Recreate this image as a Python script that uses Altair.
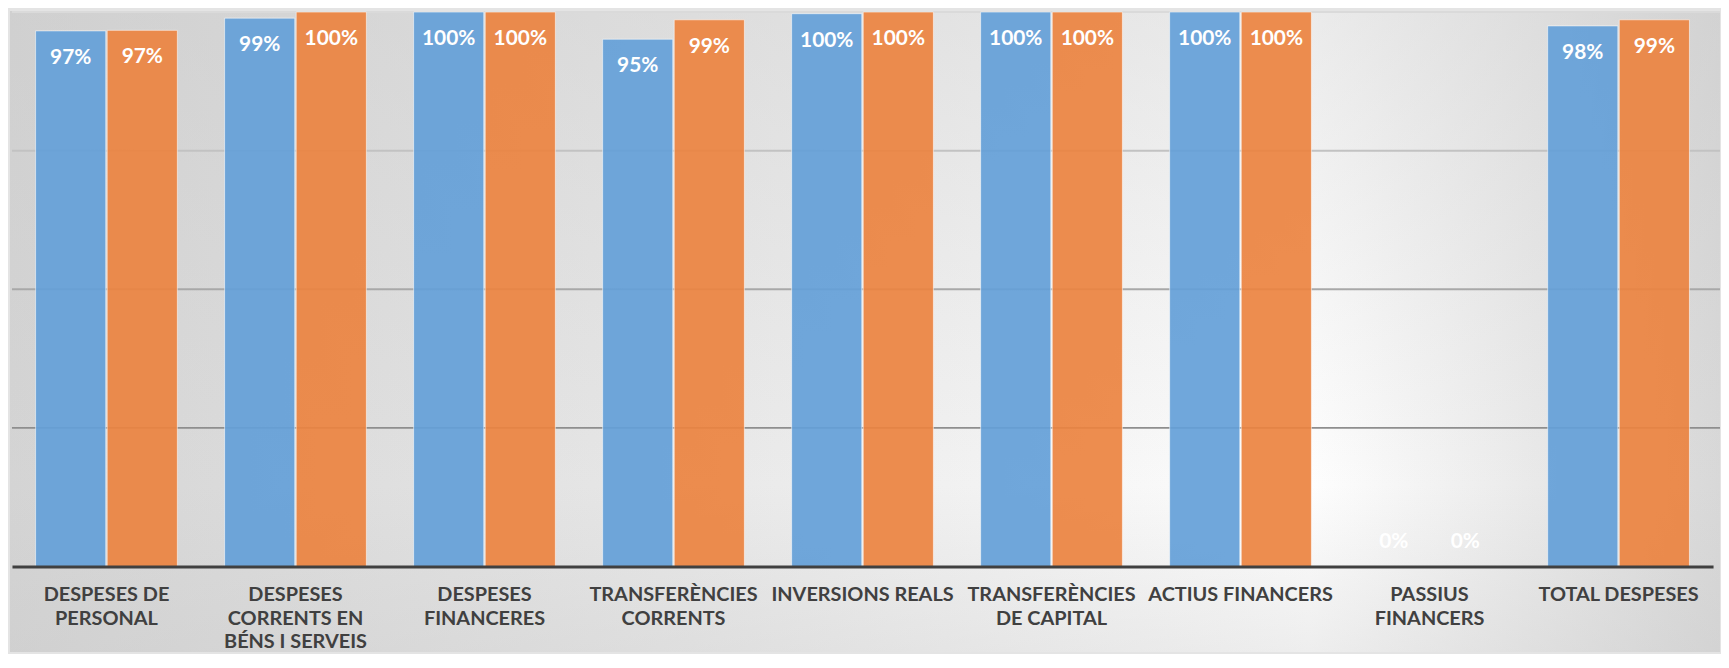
import altair as alt
import pandas as pd

categories = [
    "DESPESES DE\nPERSONAL",
    "DESPESES\nCORRENTS EN\nBÉNS I SERVEIS",
    "DESPESES\nFINANCERES",
    "TRANSFERÈNCIES\nCORRENTS",
    "INVERSIONS REALS",
    "TRANSFERÈNCIES\nDE CAPITAL",
    "ACTIUS FINANCERS",
    "PASSIUS\nFINANCERS",
    "TOTAL DESPESES",
]
series_names = ["Sèrie 1", "Sèrie 2"]
serie1 = [0.966, 0.989, 1.0, 0.951, 0.997, 1.0, 1.0, 0.0, 0.975]
serie2 = [0.967, 1.0, 1.0, 0.986, 1.0, 1.0, 1.0, 0.0, 0.986]
grid_ticks = [0.25, 0.5, 0.75, 1.0]

W, H = 1712, 558
EXTRA_R = 7
LABEL_AREA = 86

rows = []
for c, a, b in zip(categories, serie1, serie2):
    rows.append({"cat": c, "serie": series_names[0], "value": a})
    rows.append({"cat": c, "serie": series_names[1], "value": b})
df = pd.DataFrame(rows)
grid_df = pd.DataFrame({"tick": grid_ticks})
bg_df = pd.DataFrame({"a": [0]})

yscale = alt.Scale(domain=[0, 1], nice=False)
xenc = alt.X(
    "cat:N",
    sort=categories,
    scale=alt.Scale(paddingInner=0.25, paddingOuter=0.125),
    axis=alt.Axis(
        title=None,
        labelAngle=0,
        labelExpr="split(datum.label, '\\n')",
        labelFont="Lato",
        labelFontWeight="bold",
        labelFontSize=20,
        labelColor="#404040",
        labelLineHeight=24,
        labelBaseline="top",
        labelPadding=18,
        labelLimit=400,
        ticks=False,
        domainColor="#404040",
        domainWidth=3,
        grid=False,
        zindex=2,
    ),
)
xoff = alt.XOffset("serie:N", sort=series_names, scale=alt.Scale(paddingInner=0.02))

bg_h = alt.Chart(bg_df).mark_rect(
    color=alt.Gradient(
        gradient="linear",
        x1=0, y1=0.5, x2=1, y2=0.5,
        stops=[
            alt.GradientStop(offset=0, color="#d4d4d4"),
            alt.GradientStop(offset=0.4, color="#e8e8e8"),
            alt.GradientStop(offset=0.76, color="#fefefe"),
            alt.GradientStop(offset=1, color="#d8d8d8"),
        ],
    )
).encode(x=alt.value(-2), x2=alt.value(W + EXTRA_R), y=alt.value(-1), y2=alt.value(H + LABEL_AREA))

bg_v = alt.Chart(bg_df).mark_rect(
    color=alt.Gradient(
        gradient="linear",
        x1=0.5, y1=0, x2=0.5, y2=1,
        stops=[
            alt.GradientStop(offset=0, color="rgba(200,200,200,0.35)"),
            alt.GradientStop(offset=0.74, color="rgba(200,200,200,0)"),
            alt.GradientStop(offset=1, color="rgba(200,200,200,0.3)"),
        ],
    )
).encode(x=alt.value(-2), x2=alt.value(W + EXTRA_R), y=alt.value(-1), y2=alt.value(H + LABEL_AREA))

grid = alt.Chart(grid_df).mark_rule(strokeWidth=2).encode(
    y=alt.Y("tick:Q", scale=yscale, axis=None),
    x=alt.value(0),
    x2=alt.value(W + EXTRA_R),
    stroke=alt.Stroke(
        "tick:O",
        scale=alt.Scale(domain=grid_ticks, range=["#8e8e8e", "#a8a8a8", "#c2c2c2", "#dadada"]),
        legend=None,
    ),
)

bars = alt.Chart(df).transform_filter("datum.value > 0").mark_bar(
    fillOpacity=0.92, stroke="white", strokeOpacity=0.55, strokeWidth=1
).encode(
    x=xenc,
    xOffset=xoff,
    y=alt.Y("value:Q", scale=yscale, axis=None),
    color=alt.Color(
        "serie:N",
        sort=series_names,
        scale=alt.Scale(domain=series_names, range=["#64a0d8", "#ec8340"]),
        legend=None,
    ),
)

text_style = dict(color="white", font="Lato", fontWeight="bold", fontSize=21, baseline="middle", align="center")
labels_pos = alt.Chart(df).transform_filter("datum.value > 0").mark_text(dy=27, **text_style).encode(
    x=xenc, xOffset=xoff,
    y=alt.Y("value:Q", scale=yscale, axis=None),
    text=alt.Text("value:Q", format=".0%"),
)
labels_zero = alt.Chart(df).transform_filter("datum.value <= 0").mark_text(dy=-25, **text_style).encode(
    x=xenc, xOffset=xoff,
    y=alt.Y("value:Q", scale=yscale, axis=None),
    text=alt.Text("value:Q", format=".0%"),
)

chart = alt.layer(bg_h, bg_v, grid, bars, labels_pos, labels_zero).properties(
    width=W, height=H,
    padding={"left": 2, "top": 1, "right": 0, "bottom": 0},
    background="#e4e4e4",
).configure_view(stroke=None)

chart.save("out.html", embed_options={"renderer": "svg", "actions": False})
